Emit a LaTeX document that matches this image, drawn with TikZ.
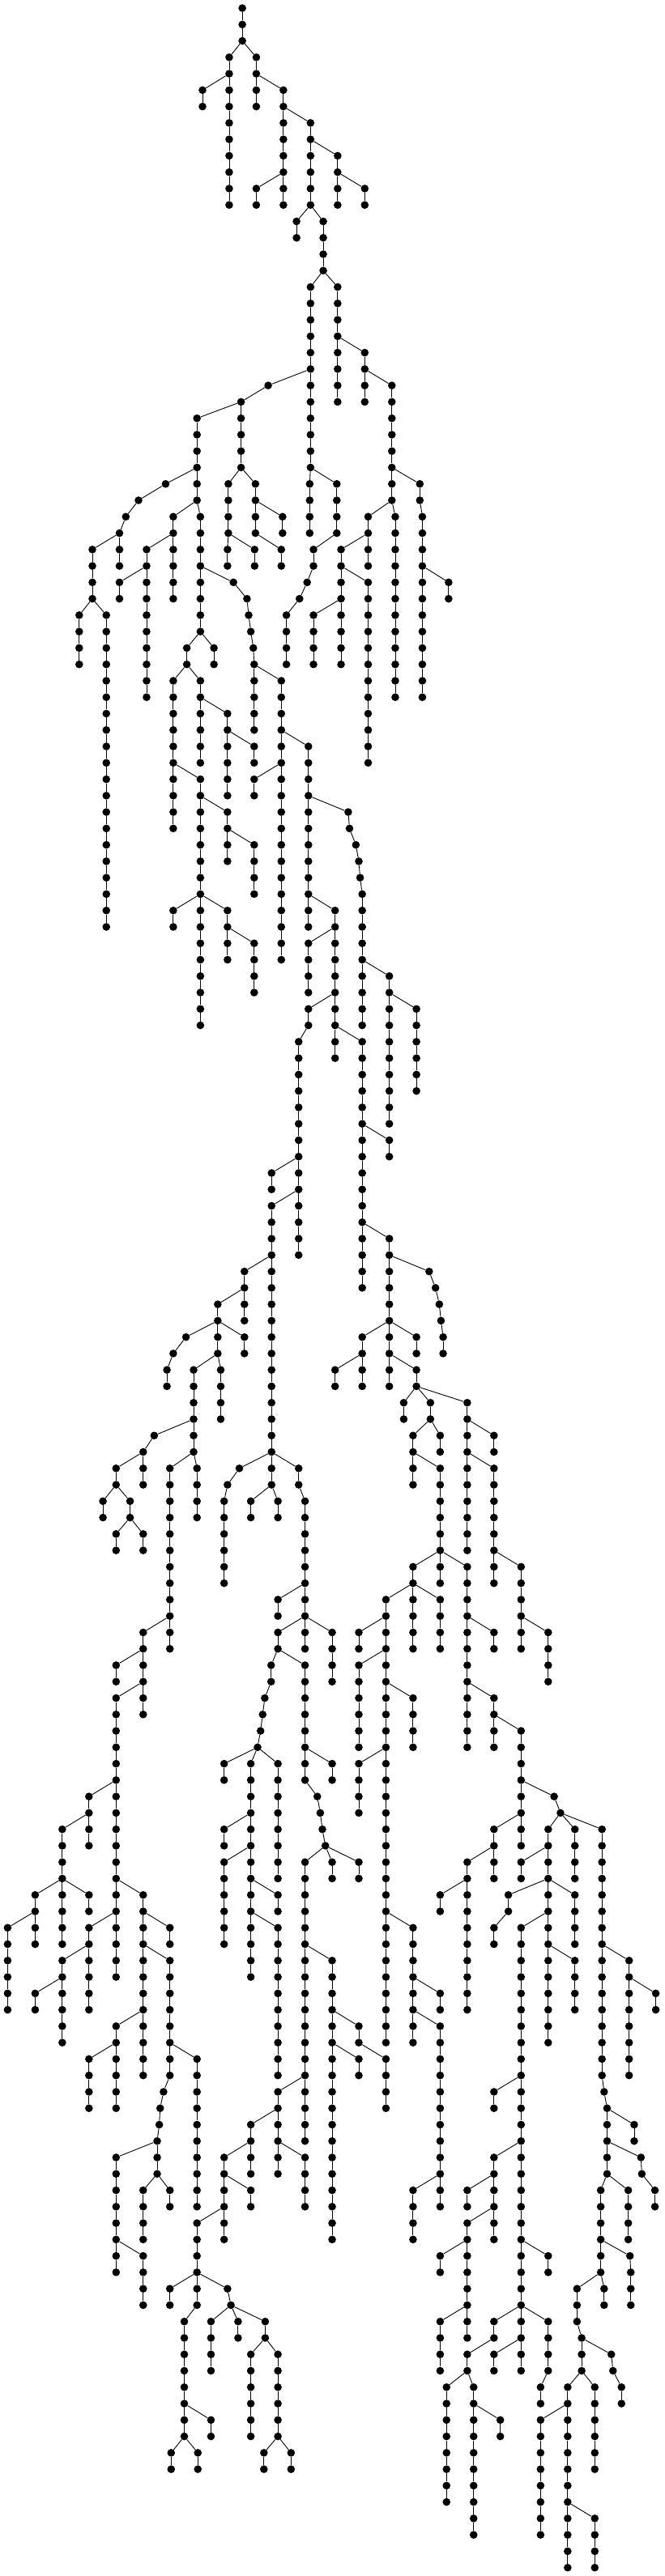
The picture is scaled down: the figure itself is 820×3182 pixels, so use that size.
\documentclass[tikz,border=0pt]{standalone}
\tikzset{dot/.style={circle,fill=black,draw=none,inner sep=0pt,minimum size=9.6pt},
  edge/.style={line width=0.9pt,black}}
\newcommand\tzstep[1]{%
  \node[dot] (n#1x\tzL) at ({#1/1.912},{-10-20.267*\tzL}) {};%
  \ifnum\tzP>-1\relax
    \pgfmathtruncatemacro\tzQ{\tzL-1}%
    \draw[edge] (n\tzP x\tzQ) -- (n#1x\tzL);%
  \fi
  \xdef\tzP{#1}%
  \pgfmathtruncatemacro\tzN{\tzL+1}%
  \xdef\tzL{\tzN}}
\newcommand\tp[3]{\xdef\tzL{#1}\xdef\tzP{#2}\foreach \xx in {#3}{\expandafter\tzstep\expandafter{\xx}}}
\newcommand\vc[4]{\xdef\tzL{#1}\xdef\tzP{#2}\foreach \ii in {1,...,#4}{\tzstep{#3}}}
\begin{document}
\begin{tikzpicture}[x=1pt,y=1pt]
\fill[white] (0,0) rectangle (820,-3182);
\useasboundingbox (0,0) rectangle (820,-3182);
\vc{0}{-1}{572}{3}
\vc{3}{572}{541}{10}
\vc{3}{572}{605}{4}
\vc{5}{541}{478}{2}
\vc{5}{605}{669}{8}
\vc{7}{669}{733}{6}
\vc{9}{733}{797}{4}
\vc{11}{669}{605}{2}
\vc{11}{797}{861}{2}
\vc{13}{733}{700}{2}
\vc{13}{733}{763}{4}
\vc{17}{763}{733}{12}
\vc{17}{763}{797}{8}
\vc{21}{797}{861}{4}
\tp{23}{733}{633,569,569,569,569,569}
\vc{23}{861}{925}{8}
\vc{25}{569}{465}{6}
\tp{29}{465}{391,327,297,282,282,282}
\tp{29}{569}{539,539,539,539,537,537}
\tp{29}{569}{603,603,603,603,664,664}
\vc{29}{733}{731}{4}
\tp{29}{733}{795,795,795,795,740,740,725,707,676,676,676,676}
\tp{29}{925}{991,991,997,997,997,997,997,997,997,997,997,997,997,997}
\vc{31}{925}{869}{4}
\vc{31}{925}{933}{12}
\vc{31}{465}{409}{6}
\vc{31}{465}{473}{8}
\vc{31}{603}{667}{2}
\vc{33}{282}{218}{4}
\vc{33}{409}{346}{10}
\vc{33}{539}{601}{2}
\vc{33}{869}{805}{8}
\vc{35}{346}{282}{2}
\tp{35}{473}{551,583,587,592,598,600,600,600,600,600}
\vc{35}{805}{869}{12}
\vc{35}{997}{1059}{2}
\vc{37}{218}{187}{4}
\vc{37}{218}{251}{20}
\vc{37}{805}{740}{4}
\vc{39}{473}{441}{2}
\vc{39}{473}{505}{2}
\vc{41}{441}{409}{10}
\vc{41}{441}{473}{6}
\vc{41}{600}{664}{18}
\vc{43}{473}{537}{6}
\vc{45}{537}{600}{2}
\vc{45}{664}{728}{12}
\vc{47}{409}{473}{16}
\vc{47}{664}{600}{2}
\vc{49}{473}{537}{4}
\tp{49}{728}{822,825,840,847,850,855,855,855,855,855,855,855,855,855}
\vc{51}{537}{600}{4}
\vc{55}{473}{409}{2}
\vc{55}{473}{537}{4}
\vc{55}{728}{791}{10}
\vc{57}{537}{600}{4}
\vc{57}{791}{728}{4}
\vc{59}{855}{919}{10}
\tp{61}{791}{728,728,705,705,705,705,705,705,705,705,705,705,705,705,705,705}
\vc{61}{919}{983}{6}
\vc{63}{791}{855}{16}
\vc{69}{855}{919}{2}
\vc{71}{705}{641}{2}
\vc{73}{705}{641}{18}
\vc{75}{855}{919}{10}
\vc{77}{641}{577}{4}
\tp{77}{919}{1013,1028,1037,1041,1046,1046}
\vc{79}{577}{514}{4}
\tp{81}{514}{439,409,394,394}
\vc{81}{514}{577}{2}
\vc{81}{919}{855}{4}
\vc{81}{919}{983}{2}
\vc{83}{514}{457}{6}
\vc{83}{514}{521}{4}
\vc{83}{855}{791}{2}
\vc{83}{919}{983}{2}
\vc{85}{983}{953}{2}
\vc{85}{983}{1016}{2}
\vc{85}{983}{1103}{10}
\tp{87}{457}{364,338,338,338}
\vc{87}{1016}{975}{4}
\vc{87}{1016}{1039}{2}
\vc{87}{1103}{1166}{2}
\vc{89}{338}{274}{2}
\vc{89}{457}{401}{12}
\vc{89}{457}{465}{4}
\tp{89}{641}{565,537,529,529,529,529,529,529}
\tp{89}{641}{705,705,720,720,720,720,720,720,720,720,720,720}
\vc{89}{975}{1039}{8}
\vc{89}{1103}{1166}{8}
\vc{91}{274}{243}{2}
\vc{91}{274}{307}{2}
\vc{91}{641}{592}{2}
\vc{91}{641}{656}{2}
\vc{93}{307}{274}{2}
\vc{93}{307}{338}{2}
\vc{95}{1039}{975}{6}
\vc{95}{1039}{1103}{12}
\vc{95}{1166}{1230}{6}
\vc{97}{720}{656}{2}
\vc{97}{975}{911}{28}
\vc{97}{975}{1039}{4}
\vc{99}{401}{338}{6}
\tp{99}{720}{656,656,640,640,625,620,615,608}
\vc{99}{720}{784}{4}
\vc{99}{911}{847}{2}
\vc{99}{1103}{1166}{2}
\vc{99}{1230}{1294}{4}
\vc{101}{338}{274}{2}
\tp{101}{656}{720,720,720,720,720,720,720,720,749,756,761,768}
\vc{101}{911}{847}{6}
\vc{103}{338}{274}{18}
\vc{103}{911}{975}{4}
\vc{103}{1103}{1166}{4}
\vc{105}{1166}{1230}{8}
\vc{107}{608}{529}{2}
\vc{107}{608}{592}{14}
\vc{107}{608}{656}{8}
\vc{107}{720}{784}{2}
\vc{107}{911}{847}{4}
\vc{109}{274}{210}{4}
\tp{109}{1230}{1308,1323}
\vc{111}{210}{147}{8}
\vc{111}{592}{529}{2}
\vc{111}{1230}{1166}{4}
\vc{111}{1323}{1294}{14}
\vc{111}{1323}{1357}{4}
\tp{111}{1323}{1421,1421,1421,1421,1421,1421,1421,1421,1421,1421,1421,1421,1421,1421,1421,1421,1426,1433,1433,1433,1433,1433}
\vc{113}{592}{529}{6}
\vc{113}{768}{720}{18}
\vc{113}{768}{784}{2}
\vc{113}{768}{847}{2}
\vc{113}{1166}{1103}{10}
\vc{113}{1294}{1230}{2}
\vc{115}{147}{83}{4}
\vc{115}{147}{210}{2}
\vc{115}{274}{338}{12}
\vc{115}{592}{656}{2}
\vc{115}{1103}{1039}{2}
\tp{115}{1294}{1200,1200,1166,1166}
\vc{115}{1294}{1357}{4}
\vc{117}{83}{18}{6}
\vc{117}{274}{210}{6}
\vc{117}{338}{401}{2}
\vc{117}{592}{656}{10}
\vc{117}{911}{975}{8}
\vc{117}{1294}{1230}{28}
\vc{119}{210}{147}{6}
\tp{119}{338}{401,401,401,401,401,401,401,401,386,378,376,371,371,371}
\vc{119}{720}{784}{18}
\vc{119}{1294}{1357}{4}
\vc{119}{1421}{1485}{8}
\vc{121}{147}{83}{2}
\vc{121}{975}{1039}{2}
\vc{121}{1485}{1548}{2}
\vc{123}{338}{274}{6}
\tp{123}{784}{847,847,911,911,911,911}
\vc{123}{975}{1039}{12}
\vc{125}{274}{210}{4}
\vc{125}{401}{465}{10}
\vc{125}{784}{847}{2}
\vc{127}{720}{656}{6}
\vc{127}{1230}{1166}{2}
\vc{129}{656}{592}{4}
\vc{129}{1433}{1497}{2}
\vc{131}{371}{274}{8}
\vc{131}{592}{529}{6}
\vc{131}{656}{720}{4}
\vc{131}{1230}{1166}{6}
\tp{131}{1433}{1513,1515,1546,1546}
\vc{133}{371}{338}{4}
\vc{133}{371}{401}{2}
\vc{133}{529}{592}{2}
\vc{133}{1039}{975}{4}
\vc{133}{1166}{1103}{2}
\vc{133}{1433}{1418}{6}
\vc{133}{1433}{1483}{4}
\tp{135}{529}{465,465,465,465,465,465,435,435,435,435,435,435,435,435}
\vc{135}{1166}{1103}{8}
\vc{137}{274}{338}{4}
\vc{137}{1103}{1039}{2}
\vc{137}{1230}{1294}{2}
\tp{137}{1418}{1487,1489,1489,1489}
\vc{139}{465}{401}{2}
\tp{139}{465}{537,545}
\tp{139}{1418}{1362,1362,1362,1373,1373,1373}
\vc{139}{1418}{1426}{2}
\vc{141}{545}{498}{4}
\vc{141}{545}{562}{2}
\vc{141}{545}{626}{2}
\vc{141}{1103}{1039}{4}
\vc{141}{1230}{1166}{2}
\tp{141}{1230}{1294,1294,1294,1294,1276,1276}
\vc{143}{626}{592}{6}
\vc{143}{626}{656}{6}
\vc{143}{1166}{1103}{2}
\tp{143}{1373}{1443,1447,1467,1467}
\vc{143}{1230}{1166}{2}
\vc{145}{1103}{1054}{8}
\vc{145}{1103}{1118}{10}
\vc{145}{1373}{1340}{12}
\vc{145}{1373}{1404}{6}
\vc{147}{435}{498}{2}
\vc{147}{1118}{1181}{2}
\vc{147}{1340}{1276}{8}
\vc{149}{435}{404}{2}
\vc{149}{435}{467}{2}
\vc{149}{656}{623}{2}
\vc{149}{656}{687}{2}
\vc{153}{1340}{1404}{4}
\end{tikzpicture}
\end{document}
